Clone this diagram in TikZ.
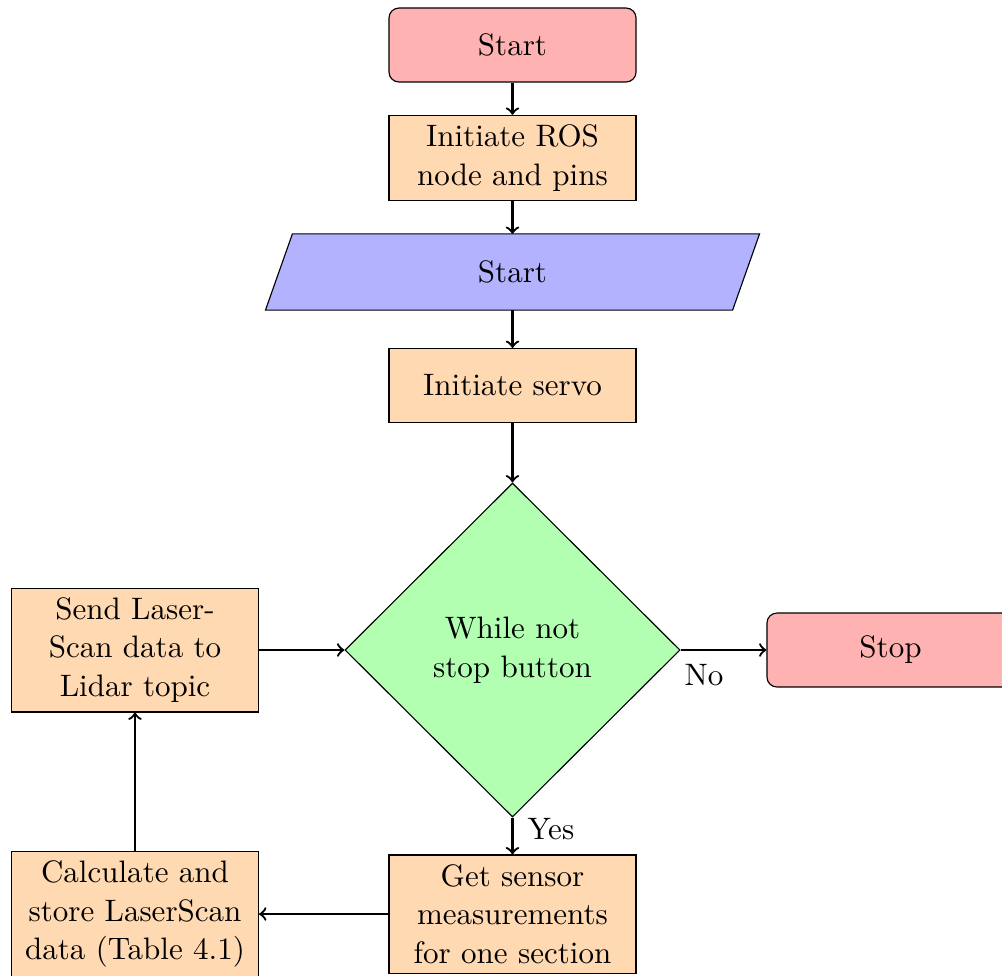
\documentclass[tikz,border=0pt]{standalone}
\usepackage{fontspec}
\setmainfont{Latin Modern Roman}
\usetikzlibrary{shapes.geometric,backgrounds}
\tikzset{
  startstop/.style={rectangle, rounded corners=3.5pt, draw, fill=red!30,
    minimum width=87.2pt, minimum height=26.1pt, align=center},
  process/.style={rectangle, draw, fill=orange!30,
    minimum width=87.2pt, minimum height=26.1pt, align=center},
  io/.style={rectangle, minimum width=174pt, minimum height=26.5pt, align=center},
  ioshape/.style={draw, fill=blue!30},
  decision/.style={diamond, draw, fill=green!30, inner sep=0pt,
    minimum width=118.3pt, minimum height=117.9pt, align=center},
  flowarrow/.style={thick, ->},
  edgelabel/.style={inner sep=0pt, anchor=north west}
}
\begin{document}
\begin{tikzpicture}[x=0.353pt, y=-0.353pt, font=\fontsize{10.95}{13.6}\selectfont]
  \clip (0,0) rectangle (1002,975);
  \useasboundingbox (0,0) rectangle (1002,975);

  \node[startstop] (start) at (512.5,45) {Start};
  \node[process]   (ros)   at (512.5,158) {Initiate ROS\\node and pins};
  \node[io]        (in)    at (512.5,272) {Start};
  \node[process]   (servo) at (512.5,385.5) {Initiate servo};
  \node[decision]  (loop)  at (512.5,650) {While not\\stop button};
  \node[startstop] (stop)  at (890.5,650) {Stop};
  \node[process]   (send)  at (135,650) {Send Laser-\\Scan data to\\Lidar topic};
  \node[process]   (get)   at (512.5,914) {Get sensor\\measurements\\for one section};
  \node[process]   (calc)  at (135,914) {Calculate and\\store LaserScan\\data (Table 4.1)};

  % input/output parallelogram behind its label
  \begin{scope}[on background layer]
    \draw[ioshape] (in.south west) -- ([xshift=-9.5pt]in.south east)
      -- (in.north east) -- ([xshift=9.5pt]in.north west) -- cycle;
  \end{scope}

  \draw[flowarrow] (start) -- (ros);
  \draw[flowarrow] (ros) -- (in);
  \draw[flowarrow] (in) -- (servo);
  \draw[flowarrow] (servo) -- (loop);
  \draw[flowarrow] (loop.east) -- node[edgelabel, pos=0, xshift=1pt, yshift=-4.6pt] {No} (stop.west);
  \draw[flowarrow] (loop.south) -- node[edgelabel, pos=0, xshift=4.9pt] {Yes} (get.north);
  \draw[flowarrow] (get.west) -- (calc.east);
  \draw[flowarrow] (calc.north) -- (send.south);
  \draw[flowarrow] (send.east) -- (loop.west);
\end{tikzpicture}
\end{document}
